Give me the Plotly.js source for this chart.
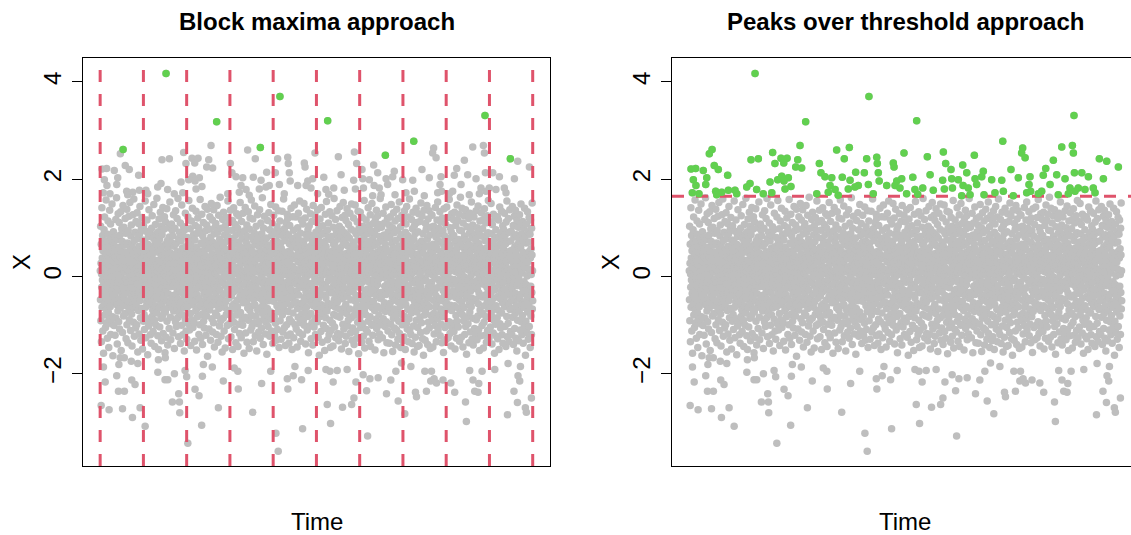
<!DOCTYPE html>
<html><head><meta charset="utf-8">
<script src="https://cdn.plot.ly/plotly-3.0.1.min.js"></script>
<style>html,body{margin:0;padding:0;overflow:hidden;background:#fff}#chart{width:1145px;height:535px}</style>
</head><body><div id="chart"></div>
<script>
// ---- data ----
const nTime = 3000;
const blockEdges = [0,300,600,900,1200,1500,1800,2100,2400,2700,3000];
const threshold = 1.65;
const yTicks = [-2,0,2,4];

// bulk of the series (values between about -1.7 and the threshold), in time order
const bulkX = [
.12,-.48,1.03,-.91,.27,.66,-1.34,.05,-.22,1.41,-.63,.38,-.07,.84,-1.12,.53,-.35,.19,-1.58,.71,-.14,.96,-.56,.31,1.22,-.79,.02,-.41,.58,-1.05,.44,-.26,1.57,-.68,.16,-.95,.73,-.03,.35,-1.27,
-.19,.87,-.52,1.14,.09,-.74,.42,-1.46,.61,-.33,.24,-.88,1.36,-.11,.49,-.62,.07,1.08,-1.19,.33,-.45,.79,-.01,-.97,.55,1.49,-.29,.14,-.83,.68,-1.63,.21,-.38,.92,-.17,.46,-1.01,.63,-.54,.28,
.81,-.06,-1.21,.39,.57,-.44,1.17,-.86,.11,-.31,1.62,-.58,.23,.04,-1.39,.76,-.21,.47,-.71,1.29,-.12,.34,-.93,.6,-.47,1.11,.18,-1.08,.4,-.27,.85,-.65,-.02,1.33,-.49,.15,-1.52,.52,-.16,.98,
-.37,.29,.72,-1.15,.08,-.59,1.46,-.23,.37,-.81,.1,1.01,-.42,-1.67,.64,-.09,.26,-.76,1.19,.45,-.34,-.05,.89,-1.28,.17,-.6,.5,1.38,-.99,.22,-.13,.69,-.51,-1.36,.32,.94,-.25,.06,-.72,1.24,
.43,-.89,.13,-.3,1.52,-.67,.25,.59,-1.11,-.18,.83,-.43,1.06,.01,-.77,.36,-1.43,.67,-.1,.2,-.55,1.27,-.24,.48,-.94,.03,1.59,-.64,.3,-1.23,.74,-.36,-.08,.91,-.53,.12,-1.06,.56,1.13,-.28,
-.61,.17,-.99,.54,1.31,-.15,-.46,.78,-1.55,.09,.41,-.7,1.09,-.32,.24,-1.18,.62,-.04,.88,-.5,1.44,-.2,.33,-.85,.07,-1.31,.51,.97,-.39,.14,-.66,1.21,-.11,.37,-1.49,.75,-.26,.02,.6,-.92,
1.04,-.33,.28,-.78,.46,-1.09,.15,.71,-.4,1.55,-.06,-.63,.32,-1.26,.93,-.17,.52,-.52,.11,1.16,-.87,.39,-.29,-1.61,.66,.04,-.45,.82,-1.02,.27,1.37,-.58,.19,-.14,.53,-.96,.9,-.37,-1.2,.44,
-.08,.61,-1.37,.26,-.54,.99,.13,-.82,1.25,-.22,.47,-.69,.06,-1.13,.79,.35,-.31,1.48,-.47,.18,-.9,.58,-1.44,.03,.72,-.16,1.07,-.6,.29,-.04,-1.0,.87,-.41,.23,1.61,-.75,.1,-.28,.65,-1.22,
.5,-.13,.92,-1.5,.34,-.35,1.18,-.64,.08,.76,-1.04,.21,-.49,1.32,-.19,.55,-.86,.14,-.01,1.03,-1.32,.42,-.57,.86,-.24,.16,-.8,1.42,.3,-1.17,.63,-.43,.05,.97,-.68,-.12,1.23,-.33,.4,-1.57,
.2,-.73,1.12,-.27,.49,-1.25,.67,.01,-.5,1.39,-.92,.31,-.18,.74,-1.41,.11,.57,-.36,1.0,-.63,.25,-.03,-1.07,.81,.36,-.55,1.53,-.21,.09,-.84,.48,-1.3,.7,-.15,.27,1.08,-.61,-.39,.14,.95,
-.44,.06,.83,-1.16,.38,-.2,1.27,-.71,.15,-.02,.62,-1.48,.29,-.57,.99,.44,-.11,-.93,1.35,.07,-.37,.68,-1.03,.24,-.66,.12,1.19,-.3,.51,-.85,-.05,1.6,-.47,.33,-1.24,.78,-.17,.4,-.74,.02,
.91,-.26,-.6,.18,1.1,-1.38,.47,-.09,.73,-.52,.3,-1.0,1.47,.05,-.34,.58,-.79,.22,-1.2,.84,-.14,.39,1.02,-.65,-.01,.53,-1.53,.17,-.42,.96,.26,-.88,1.3,-.23,.61,-.06,-1.12,.45,.1,-.56,
-1.29,.36,-.16,.8,-.62,.03,1.22,-.45,.56,-.97,.19,1.56,-.32,-.08,.7,-1.1,.42,-.51,.13,.98,-.76,.28,-1.42,.64,-.2,1.14,-.03,.37,-.89,.5,-.3,1.4,-.58,.09,-1.05,.76,.21,-.41,.87,-.13,
.32,-.95,.58,.08,-1.33,.75,-.29,1.05,-.5,.16,-.7,1.34,-.12,.43,-1.51,.6,.01,-.38,.89,-.83,.27,1.2,-.24,-.64,.47,-.07,1.0,-1.19,.35,-.46,.14,.93,-.99,-.18,1.58,.52,-.6,.24,-1.27,.69,
-.1,.48,-.78,1.28,.2,-.54,.05,-1.4,.83,-.25,.66,-.04,1.11,-.92,.38,-.35,.12,-1.06,.72,.54,-.68,1.44,-.15,.29,-.48,.94,-1.21,.08,.41,-.81,1.06,-.27,.18,-.58,1.38,-1.64,.3,.63,-.42,-.02,
.74,-.39,.15,-1.08,.57,.97,-.2,-.69,1.23,.04,-.48,.36,-1.31,.81,-.13,.25,1.5,-.59,.11,-.87,.46,-.05,1.16,-1.14,.33,-.3,.7,.18,-.95,1.37,-.44,.6,-.16,-1.45,.88,.07,-.53,1.01,.26,-.75,
-.58,1.09,.23,-.34,-1.19,.65,.1,-.8,1.46,-.21,.4,-.02,.91,-1.35,.52,-.47,.16,1.26,-.66,.31,-.09,-1.02,.77,.45,-.28,1.63,-.55,.13,-.91,.58,-1.23,.36,.99,-.12,-.43,.69,-1.55,.22,-.07,1.17,
.28,-.11,-.86,.64,1.32,-.36,.03,-1.12,.5,-.63,.85,-.18,.19,-1.47,1.04,.37,-.52,.72,-.01,-.78,1.21,.08,-.33,.55,-1.01,.94,-.24,.42,1.55,-.7,.12,-1.28,.31,-.45,.8,-.15,1.12,-.97,.46,.05,
-.73,.41,1.36,-.05,.17,-1.24,.6,-.4,.95,-.85,.26,.02,-.6,1.15,-1.5,.47,-.19,.78,.09,-.32,1.41,-.94,.2,-.56,.67,-1.09,.34,.13,-.23,1.07,-.67,.53,-1.36,.86,-.1,.38,-.79,1.29,.06,-.49,
.15,-.62,.99,-.28,-1.44,.71,.35,-.13,1.25,-.98,.44,-.06,.63,-1.17,.21,-.41,1.52,.02,-.74,.89,-.31,.27,-1.26,.56,1.13,-.47,.1,-.88,.77,-.18,-1.0,.4,1.3,-.54,.07,-.35,.92,-1.58,.49,-.03,
-.17,.94,-.43,.12,1.42,-.84,.33,-1.16,.59,-.08,.7,-.53,.25,1.06,-1.35,.14,-.27,.82,-.65,.47,-.02,1.33,-.9,.36,-.39,.61,-1.48,.18,.97,-.21,-.7,1.2,.03,-.44,.55,-1.1,.3,-.15,1.57,-.8,
.53,-.32,-1.03,.81,.06,-.6,1.18,-.2,.39,-1.34,.74,-.47,.11,.9,-.95,.24,-.05,1.45,-.58,.32,-1.22,.65,-.14,.48,-.81,1.03,.16,-.36,-1.53,.72,.44,-.26,1.27,-.69,.09,-.97,.37,.85,-.12,-1.14,
.62,-.07,.2,-.92,1.37,-.45,.14,-1.27,.77,-.3,.51,1.1,-.64,-.01,.43,-1.06,.88,-.38,.23,1.62,-.76,.05,-.52,.67,-1.4,.29,.99,-.18,-.87,.35,1.24,-.62,.12,-.29,.75,-1.18,.46,-.09,.58,-.71,
-.94,.25,.79,-.42,-1.6,.55,.07,-.66,1.15,-.19,.38,-1.03,.64,.18,-.5,1.31,-.82,.28,-.11,.96,-1.23,.41,.6,-.34,.02,-.73,1.48,-.25,.52,-1.12,.13,.84,-.46,-.04,1.09,-.89,.31,-1.38,.7,.21,
.04,-.51,1.26,-.14,.46,-.83,.27,-1.21,.92,.1,-.37,.61,-.96,1.43,-.22,.34,-1.31,.56,-.03,.73,-.6,1.02,.19,-1.09,.49,-.29,.86,-.72,.08,1.35,-.44,.22,-1.46,.67,-.16,.4,1.14,-.57,-.91,.3,
-.35,.69,-.09,-1.29,.58,.93,-.61,.16,-.23,1.34,-.79,.45,.03,-1.14,.83,-.4,.26,1.59,-.68,.11,-.47,.98,-1.05,.32,-.17,.74,.5,-1.42,.2,-.31,1.11,-.56,.07,.88,-.99,.43,-.12,1.28,-1.22,.15,
1.19,-.46,.3,-.72,.01,.85,-1.37,.52,-.18,.67,-.88,1.05,.24,-.33,-1.18,.47,.12,-.59,1.4,-.27,.36,-.93,.78,-.02,-1.5,.6,.21,-.42,1.23,-.75,.39,-.07,.95,-1.26,.17,-.54,.71,1.47,-.36,-.13,
.37,-.99,.66,.09,-.52,1.22,-.15,-1.08,.43,.82,-.3,.14,-1.45,.57,-.66,1.0,-.04,.31,-.84,1.3,-.38,.06,.75,-1.15,.49,-.21,1.55,-.62,.28,-.95,.13,.89,-1.33,.4,-.1,-.55,1.16,.23,-.77,.64,
-.22,.54,-1.2,.35,1.08,-.57,.18,-.89,.73,-.06,1.5,-.43,-1.0,.29,.62,-.24,-.71,1.2,.04,-1.39,.51,-.32,.87,.15,-.63,1.38,-.12,.45,-1.1,.79,-.49,.02,.96,-.82,.33,-1.57,.6,.19,-.35,1.04,
.86,-.2,.13,-1.02,.48,-.41,1.29,.05,-.76,.37,-1.28,.63,.22,-.53,1.13,-.95,.32,-.14,.7,-1.41,.1,1.46,-.6,.39,-.27,.81,-1.04,.16,.57,-.37,-.03,1.26,-.86,.44,-1.19,.26,.91,-.48,.08,-.65,
-.52,1.12,.35,-.12,-.93,.6,1.37,-.3,.07,-1.25,.78,-.45,.2,.99,-.69,-1.62,.41,.14,-.35,1.18,-.82,.52,-.06,.68,-1.13,.3,1.42,-.58,.11,-.24,.87,-1.35,.47,-.16,.03,1.04,-.75,.36,-1.0,.55,
.19,-.64,.9,-.38,.47,-1.52,.26,.72,-.17,1.28,-.85,.05,-.44,.61,-1.07,1.54,-.23,.33,-.71,.12,.95,-1.3,.42,-.55,.81,-.09,1.1,-.61,.27,-1.2,.5,-.33,-.01,1.33,-.9,.39,.08,-1.46,.76,-.28,
-1.11,.43,-.05,.82,-.59,1.25,.17,-.34,-.96,.53,.31,-1.43,1.01,-.2,.66,-.78,.09,1.6,-.48,.24,-1.04,.7,-.15,.38,-.63,1.17,-1.26,.14,.57,-.4,.92,-.02,-.81,1.35,.28,-.53,.45,-1.17,.12,.86,
-.29,.77,.06,-1.32,.5,-.67,1.03,.34,-.21,-.84,1.44,-.1,.59,-1.19,.22,.83,-.46,.15,-1.49,.97,-.36,.04,1.21,-.73,.46,-.18,-.98,.65,1.52,-.43,.2,-1.08,.74,-.26,.35,.9,-.63,-.07,1.26,-1.38,
.68,-.09,-.57,1.15,-1.23,.3,.47,-.76,.12,1.39,-.4,.84,-1.02,.18,-.25,.62,-.9,1.07,.01,-1.54,.43,-.31,.79,.25,-.67,1.3,-.13,.53,-1.16,.36,-.48,.97,.08,-.85,1.49,-.22,.58,-1.31,.16,-.04,
.24,-1.06,.71,-.32,.11,1.2,-.8,.44,-1.4,.63,-.14,.93,-.5,.03,1.47,-.68,.3,-1.13,.52,-.39,.18,.87,-1.27,.06,-.6,1.12,.4,-.21,-.94,.75,1.34,-.47,.13,-1.59,.55,-.08,.99,-.73,.33,-.19,
-.85,.39,1.32,-.23,.57,-1.05,.14,-.62,.9,.46,-1.35,.05,-.4,1.21,-.12,.68,-.97,.27,1.03,-1.23,.34,-.53,.8,-.03,1.56,-.7,.21,-1.47,.49,.1,-.29,.95,-.78,.4,-1.09,1.16,-.35,.63,.02,-.6,
.55,-.26,-1.14,.88,.09,-.47,1.41,-.92,.32,-.11,.72,-1.33,.16,1.05,-.56,.41,-.08,-.83,1.27,.2,-1.44,.6,-.35,.94,-.18,.37,-1.0,1.5,-.64,.07,.76,-.29,-1.21,.47,1.09,-.51,.25,-.13,.84,-.98,
-.05,.91,-.7,.33,-1.51,.64,1.18,-.28,.15,-.88,.49,-.39,1.36,-1.07,.23,.02,-.61,.98,-.17,1.25,-.94,.42,-1.3,.7,-.06,.51,-.79,1.07,.29,-1.18,.13,.82,-.45,1.6,-.33,-.99,.56,.11,-.66,.38,
1.01,-.41,.18,-.65,.76,-1.26,.4,.06,-.33,1.3,-.87,.25,-.02,-1.57,.85,.47,-.54,1.1,-.2,.32,-1.03,.66,-.72,.13,1.43,-.37,.57,-.93,.04,.8,-1.36,.27,-.15,1.19,-.6,.35,-1.12,.92,-.25,.1,
-.63,.27,1.06,-.19,-1.37,.5,-.04,.8,-.55,1.23,.16,-.98,.39,-.3,1.48,-.75,.08,-1.2,.69,.33,-.42,1.0,-1.54,.21,.58,-.11,-.86,1.31,.44,-.67,.03,.9,-1.06,.37,-.23,1.14,-.49,.12,-1.41,.74,
.31,-.8,.58,.04,-1.1,1.38,-.37,.22,-.69,.95,-.16,-1.29,.47,1.19,-.53,.14,-.92,.62,-.06,1.53,-1.17,.35,-.27,.79,.11,-.61,1.02,-1.46,.28,-.4,.86,.05,-.78,1.26,-.21,-.99,.52,.19,-1.32,.67,
-.14,1.15,-.5,.42,-1.24,.07,.73,-.36,1.35,-.82,.26,-.07,-1.5,.91,.38,-.58,1.08,-.25,.16,-.96,1.44,-.45,.59,-1.08,.02,.84,-.68,.3,1.22,-1.34,.46,-.19,.67,-.87,.1,1.59,-.32,-1.12,.54,-.02,
.79,-.34,-.03,-1.19,.64,.18,-.75,1.17,-.44,.51,-1.38,.29,.98,-.1,-.63,1.32,.08,-1.02,.41,-.29,.76,-1.55,.24,1.05,-.52,.35,-.14,.88,-1.25,.61,.13,-.4,1.4,-.9,.2,-.06,1.11,-.73,.45,-1.44,
.45,-1.05,.16,.92,-.27,-.6,1.29,-.12,.36,-1.42,.68,-.48,.05,1.13,-.84,.26,-.2,-1.15,.57,1.51,-.39,.11,-.95,.73,-.02,1.24,-.66,.32,-1.28,.48,.88,-.31,.19,-1.62,.65,-.09,1.36,-.54,.23,-.79,
-.4,.6,-1.31,.21,1.09,-.71,.43,-.08,.97,-1.12,.15,-.35,1.46,-.58,.3,.77,-1.4,.05,-.22,1.18,-.94,.39,-.45,.63,1.35,-1.06,.1,-.62,.85,-.17,.49,-1.48,.26,1.01,-.33,.07,-.8,1.27,-.12,.54,
1.26,-.22,.48,-.9,.03,-1.45,.66,.2,-.49,1.03,-.76,.37,-1.18,.14,.92,-.31,.55,-.03,-1.01,1.42,-.63,.28,.81,-.4,-1.34,.6,.09,-.55,1.16,-.23,.4,-.87,1.53,.17,-1.1,.73,-.06,-.46,.99,.31,
-.78,.12,.87,-.46,1.33,-.13,-1.22,.52,.3,-.67,1.12,-.98,.24,-.15,.71,-1.36,.45,1.2,-.5,.07,-.83,.94,-.29,.36,-1.56,.65,-.04,1.39,-.72,.18,-.37,.83,-1.05,.27,.58,-.21,1.07,-1.3,.04,-.57,
.09,-.55,1.43,-.24,.61,-1.0,.36,-.66,.04,1.21,-1.26,.47,-.11,.78,-.42,-.93,1.58,.19,-.32,.65,-1.17,.23,1.0,-.59,.12,-.05,-1.43,.92,.42,-.7,1.29,-.16,.55,-1.08,.3,-.38,.81,.14,-.96,1.17,
-.3,.84,-1.13,.46,-.06,1.32,-.6,.25,-1.49,.7,.1,-.43,1.05,-.8,.37,.53,-1.27,.2,-.17,1.47,-.92,.61,-.36,.08,1.15,-.65,-1.04,.33,.76,-.25,1.28,-.48,.15,-1.33,.95,-.11,.43,-.74,1.63,-.02,
.7,-.18,.31,-1.25,.94,-.53,.06,1.4,-.78,.2,-.36,.6,-1.45,1.1,-.08,.41,-.91,.29,1.25,-.64,-.01,.83,-1.19,.5,-.27,.16,1.37,-1.03,.34,-.45,.74,-.14,-1.6,.58,1.02,-.38,.21,-.83,.47,-.1,
-.97,.44,-.21,.66,1.19,-1.36,.13,-.57,.89,-.04,-.73,1.3,.35,-1.14,.52,-.3,.97,.02,-.62,1.53,-.44,.22,-1.29,.79,.15,-.12,1.06,-.86,.39,-1.41,.63,-.24,.08,1.22,-.5,.32,-1.07,.87,-.19,.57,
.22,-1.18,.76,.12,-.47,1.35,-.89,.3,-.09,.55,-1.3,1.0,-.26,.45,.06,-.81,1.45,-.56,.17,-1.09,.68,-.34,.93,-.05,-1.52,.4,1.14,-.69,.24,-.15,.83,-1.22,.58,-.4,1.31,.1,-.77,.47,-1.01,.19,
-.42,.98,.05,-.76,.35,-1.47,1.17,-.16,.53,-.94,.21,1.39,-.6,-.07,.74,-1.21,.3,-.38,1.1,.42,-.83,.14,-1.35,.85,.59,-.22,1.25,-.51,.08,-1.11,.49,.9,-.3,1.56,-.67,.18,-.02,-1.26,.62,.36,
1.13,-.64,.27,-.12,-1.04,.71,.46,-.35,1.5,-.79,.09,-.52,.88,-1.39,.33,1.07,-.2,-.69,.56,.13,-1.16,1.28,-.45,.38,-.9,.75,.02,-1.58,.61,-.28,1.2,-.07,.44,-.98,.25,.96,-.6,.15,-1.23,.8,
-.07,.5,-.85,1.23,.19,-1.28,.62,-.41,.05,1.16,-.7,.38,-1.5,.82,-.18,.27,1.43,-.97,.11,-.46,.68,-1.06,.34,.9,-.31,-.02,1.34,-.75,.47,-1.2,.2,.79,-.54,1.04,-1.37,.28,-.13,.57,.96,-.44,
.39,-.27,1.3,-.62,.12,-1.03,.85,.23,-.39,.67,-1.44,.07,1.12,-.54,.31,-.82,1.55,-.1,-1.24,.48,.72,-.33,.01,-.96,1.19,.36,-.58,.14,-1.34,.91,-.21,.52,1.37,-.68,-.06,.42,-1.13,.73,-.38,.16,
.93,-.49,.11,-1.2,.54,-.25,1.44,-.84,.29,.03,-.66,1.05,-1.4,.4,-.13,.81,-.5,1.24,-.01,-1.07,.61,.2,-.76,1.36,-.35,.47,-1.27,.09,.86,-.6,.24,-1.53,1.15,-.19,.37,-.9,.66,.06,-.43,1.01,
-1.32,.58,-.04,.77,-.71,.34,1.27,-.46,-.15,1.02,-1.1,.2,.6,-.37,1.49,-.93,.13,-.57,.88,-1.2,.42,.07,-.8,1.13,-.24,.5,-1.37,.73,.27,-.63,1.0,-.11,-1.04,.36,1.4,-.52,.18,-.3,.83,-1.62,
.26,-.92,.69,-.17,1.08,-.54,-1.15,.45,.01,-.4,1.33,-.73,.3,.92,-1.29,.16,-.26,.71,-.6,1.21,-1.03,.52,.1,-.47,.87,-1.46,.38,1.16,-.2,-.81,.57,.04,-1.19,.99,-.33,.44,1.51,-.67,.12,-.5
];

// upper tail (above the threshold), time and value
const upperTime = [457,808,769,579,159,140,429,480,595,637,679,656,753,739,780,903,174,202,13,45,98,122,267,29,47,115,914,942,642,688,614,658,561,422,399,706,665,184,191,272,318,330,226,68,22,468,514,573,885,965,
1247,1578,1023,1111,1076,1231,1301,1305,1490,1416,1421,1652,1763,1978,1779,1816,1897,1925,1155,1215,1312,1671,1551,989,1062,1116,1173,1243,1150,1318,1370,1440,1474,1428,1462,1566,1620,1508,1585,1758,1821,1867,1770,1826,1900,1936,1983,1994,1693,1034,1104,1012,977,1277,1890,1948,
2669,2175,2313,2306,2330,2584,2658,2665,2526,2845,2896,2977,2040,2232,2473,2029,2098,2168,2283,2364,2456,2549,2607,2672,2723,2769,2873,2357,2368,2445,2503,2641,2699,2745,2803,2121,2179,2045,2248,2341,2422,2560,2630,2676,2815];
const upperX = [4.17,3.18,2.69,2.55,2.61,2.52,2.40,2.42,2.32,2.43,2.43,2.33,2.40,2.25,2.23,2.32,2.28,2.20,2.21,2.22,2.18,2.03,2.08,1.99,1.87,1.89,2.13,2.05,2.06,2.03,1.99,1.96,1.94,1.91,1.84,1.85,1.80,1.75,1.68,1.77,1.77,1.70,1.73,1.70,1.72,1.79,1.70,1.72,1.70,1.73,
3.70,3.20,2.60,2.65,2.42,2.42,2.45,2.32,2.54,2.33,2.25,2.46,2.56,2.49,2.32,2.20,2.29,2.13,2.14,2.13,2.13,2.09,2.04,2.03,2.04,1.98,1.87,1.89,1.84,1.96,1.87,1.96,2.01,1.87,1.82,1.79,1.82,1.70,1.69,1.98,2.01,1.99,1.80,1.82,1.87,1.82,2.01,1.89,1.77,1.67,1.80,1.79,1.87,1.70,1.66,1.68,
3.31,2.78,2.64,2.54,2.44,2.66,2.69,2.54,2.39,2.42,2.37,2.25,2.16,2.20,2.22,2.05,1.99,1.98,2.03,2.05,2.08,2.09,2.01,2.13,2.13,2.05,2.01,1.89,1.75,1.75,1.89,1.82,1.82,1.79,1.82,1.72,1.75,1.68,1.66,1.72,1.70,1.68,1.70,1.75,1.72];

// lower tail (below about -1.7), time and value
const lowerTime = [23,35,115,127,168,219,242,7,62,155,224,277,312,400,450,469,515,545,501,550,552,608,600,589,658,686,709,704,716,778,820,854,958,955,930,
1058,1120,1183,1219,1235,1298,1302,1339,1397,1351,1443,1404,1575,1598,1616,1566,1594,1644,1681,1744,1760,1713,1774,1848,1855,1824,1871,1928,1986,2016,2051,2067,
2113,2187,2194,2263,2293,2333,2316,2378,2432,2459,2534,2540,2586,2626,2598,2621,2563,2649,2737,2825,2870,2894,2910,2898,2949,2956,2991,2829,2915,
404,452,130,216,261,139,2090,2155,2252,2298];
const lowerX = [-1.86,-2.17,-2.04,-2.36,-2.36,-2.13,-2.22,-2.65,-2.74,-2.72,-2.90,-2.70,-3.08,-1.97,-2.12,-2.12,-2.00,-2.41,-2.58,-2.58,-2.80,-3.43,-2.06,-1.93,-2.32,-2.45,-2.05,-3.06,-1.81,-1.86,-2.70,-2.15,-2.31,-1.95,-1.88,
-2.79,-2.20,-1.95,-3.22,-3.59,-2.10,-2.31,-2.04,-2.12,-1.85,-1.93,-3.13,-2.63,-3.02,-2.17,-1.91,-1.95,-1.93,-2.69,-2.63,-2.50,-1.91,-2.17,-2.35,-3.28,-2.02,-2.10,-2.08,-2.41,-2.13,-1.95,-2.56,
-2.82,-2.38,-2.47,-2.36,-2.15,-2.19,-2.10,-2.13,-2.19,-2.38,-2.58,-2.98,-2.13,-2.20,-2.36,-2.38,-1.93,-1.95,-1.91,-2.84,-2.36,-2.59,-2.15,-2.04,-2.70,-2.79,-2.50,-1.79,-1.85,
-1.71,-1.67,-1.81,-1.74,-1.79,-1.67,-1.78,-1.85,-1.95,-1.95];

// ---- assemble the series ----
const bulkTime = bulkX.map((_, i) => 1 + i * (nTime - 1) / (bulkX.length - 1));
const time = bulkTime.concat(upperTime, lowerTime);
const xs = bulkX.concat(upperX, lowerX);

// block maxima
const maxT = [], maxV = [];
for (let b = 0; b < blockEdges.length - 1; b++) {
  let best = -Infinity, bt = null;
  for (let i = 0; i < xs.length; i++) {
    if (time[i] >= blockEdges[b] && time[i] < blockEdges[b + 1] && xs[i] > best) { best = xs[i]; bt = time[i]; }
  }
  maxT.push(bt); maxV.push(best);
}
// exceedances
const excT = [], excV = [];
for (let i = 0; i < xs.length; i++) if (xs[i] > threshold) { excT.push(time[i]); excV.push(xs[i]); }

// ---- styling ----
const GRAY = '#BEBEBE', GREEN = '#61D04F', RED = '#DF536B';
const MS = 7.5;
const FONT = 'Liberation Sans, Arial, Helvetica, sans-serif';
const pad = 0.04 * (nTime - 1);
const xRange = [1 - pad, nTime + pad];
const yRange = [-3.895, 4.49];

const traces = [
  {type:'scatter', mode:'markers', x: time, y: xs, xaxis:'x', yaxis:'y', marker:{color:GRAY, size:MS}, hoverinfo:'skip'},
  {type:'scatter', mode:'markers', x: maxT, y: maxV, xaxis:'x', yaxis:'y', marker:{color:GREEN, size:MS}, hoverinfo:'skip'},
  {type:'scatter', mode:'markers', x: time, y: xs, xaxis:'x2', yaxis:'y2', marker:{color:GRAY, size:MS}, hoverinfo:'skip'},
  {type:'scatter', mode:'lines', x: xRange, y: [threshold, threshold], xaxis:'x2', yaxis:'y2', line:{color:RED, width:3, dash:'12px,12px'}, hoverinfo:'skip'},
  {type:'scatter', mode:'markers', x: excT, y: excV, xaxis:'x2', yaxis:'y2', marker:{color:GREEN, size:MS}, hoverinfo:'skip'}
];

const shapes = blockEdges.map(v => ({type:'line', xref:'x', yref:'y domain', x0:v, x1:v, y0:0, y1:1,
  line:{color:RED, width:3, dash:'12px,12px'}, layer:'above'}));

const W = 1145, H = 535, mL = 83, mR = 6, mT = 58, mB = 69;
const plotW = W - mL - mR;
const leftDom = [0, 467 / plotW];
const rightDom = [(672 - mL) / plotW, 1];

const xa = {range: xRange, showticklabels:false, ticks:'', showline:true, mirror:true, linecolor:'#000', linewidth:1,
  showgrid:false, zeroline:false, fixedrange:true};
const ya = {range: yRange, tickvals: yTicks, ticks:'outside', ticklen:10, tickwidth:1, tickcolor:'#000', tickangle:-90,
  ticklabelstandoff: 1, tickfont:{family:FONT, size:24, color:'#000'}, showline:true, mirror:true, linecolor:'#000', linewidth:1,
  showgrid:false, zeroline:false, fixedrange:true};

const ann = [];
const titleFont = {family:FONT, size:24, color:'#000', weight:'bold'};
const labFont = {family:FONT, size:24, color:'#000'};
[[leftDom, 'Block maxima approach'], [rightDom, 'Peaks over threshold approach']].forEach(([d, t]) => {
  const cx = (d[0] + d[1]) / 2;
  ann.push({text:t, xref:'paper', yref:'paper', x:cx, y:1, xanchor:'center', yanchor:'middle', yshift:37, showarrow:false, font:titleFont});
  ann.push({text:'Time', xref:'paper', yref:'paper', x:cx, y:0, xanchor:'center', yanchor:'middle', yshift:-55, showarrow:false, font:labFont});
  ann.push({text:'X', xref:'paper', yref:'paper', x:d[0], y:0.5, xanchor:'center', yanchor:'middle', xshift:-62, textangle:-90, showarrow:false, font:labFont});
});

const layout = {
  width: W, height: H, margin:{l:mL, r:mR, t:mT, b:mB, pad:0},
  paper_bgcolor:'#fff', plot_bgcolor:'#fff', showlegend:false, hovermode:false,
  font:{family:FONT, size:24, color:'#000'},
  xaxis: Object.assign({}, xa, {domain:leftDom, anchor:'y'}),
  yaxis: Object.assign({}, ya, {domain:[0,1], anchor:'x'}),
  xaxis2: Object.assign({}, xa, {domain:rightDom, anchor:'y2'}),
  yaxis2: Object.assign({}, ya, {domain:[0,1], anchor:'x2'}),
  shapes: shapes, annotations: ann
};

Plotly.newPlot('chart', traces, layout, {staticPlot:true, displayModeBar:false});
</script>
</body></html>
